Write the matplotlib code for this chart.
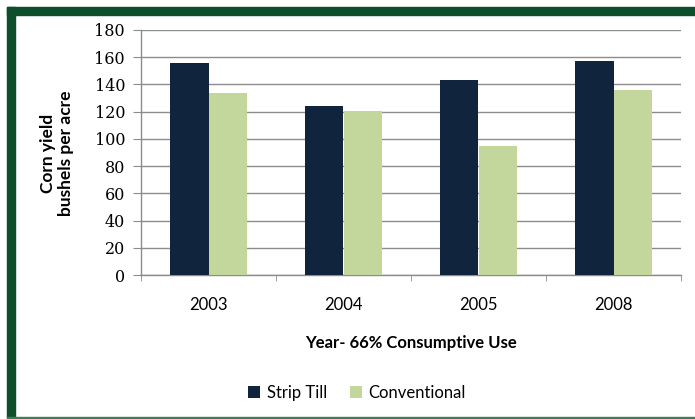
import numpy as np
import matplotlib.pyplot as plt
from matplotlib.patches import Rectangle

# corn yield, bushels per acre
years = ['2003', '2004', '2005', '2008']
strip_till = [156, 124, 143.5, 157]
conventional = [134, 120.5, 95, 136]

navy = '#10243e'
sage = '#c3d69b'
green = '#0d4f2a'
grid_gray = '#8c8c8c'

W, H = 695, 419
fig = plt.figure(figsize=(W / 100, H / 100), dpi=100)

# frame: heavy band on top and left, thin line at the bottom
def px_rect(x0, y0, x1, y1, color):
    fig.patches.append(Rectangle((x0 / W, 1 - y1 / H), (x1 - x0) / W, (y1 - y0) / H,
                                 transform=fig.transFigure, color=color, zorder=0))

px_rect(7, 7, W, 15, green)
px_rect(7, 7, 15, 418, green)
px_rect(7, 416.5, W, 418.5, '#3d7d58')

ax = fig.add_axes([141 / W, 144 / H, 540 / W, 245 / H])

x = np.arange(len(years))
w = 0.285
ax.bar(x - w / 2, strip_till, w, color=navy, label='Strip Till', zorder=3)
ax.bar(x + w / 2, conventional, w, color=sage, label='Conventional', zorder=3)

ax.set_xlim(-0.5, len(years) - 0.5)
ax.set_ylim(0, 180)
ax.set_yticks(np.arange(0, 181, 20))
ax.yaxis.grid(True, color=grid_gray, linewidth=1.0, zorder=0)
ax.set_axisbelow(True)

for s in ['top', 'right']:
    ax.spines[s].set_visible(False)
for s in ['left', 'bottom']:
    ax.spines[s].set_color(grid_gray)
    ax.spines[s].set_linewidth(1.0)

ax.set_xticks(x)
ax.set_xticklabels(years, family='Lato', fontsize=12)
ax.set_xticks(np.arange(-0.5, len(years)), minor=True)
ax.tick_params(axis='x', which='major', length=0, pad=16)
ax.tick_params(axis='x', which='minor', length=4.5, color=grid_gray, direction='out')
ax.tick_params(axis='y', length=5.5, color=grid_gray, direction='out', pad=6)
for lbl in ax.get_yticklabels():
    lbl.set_family('DejaVu Serif')
    lbl.set_fontsize(11.5)

ax.set_xlabel('Year- 66% Consumptive Use', family='Lato', fontweight='bold', fontsize=12)
ax.xaxis.set_label_coords(0.5, -0.245)

fig.text(57 / W, 1 - 153 / H, 'Corn yield\nbushels per acre', rotation=90,
         ha='center', va='center', multialignment='center',
         family='Lato', fontweight='bold', fontsize=12.5, linespacing=1.15)

fig.legend(loc='center', bbox_to_anchor=(357 / W, 1 - 393 / H), ncol=2, frameon=False,
           prop={'family': 'Lato', 'size': 12}, handlelength=0.7, handleheight=0.7,
           handletextpad=0.4, columnspacing=1.4)

fig.savefig('out.png', dpi=100)
